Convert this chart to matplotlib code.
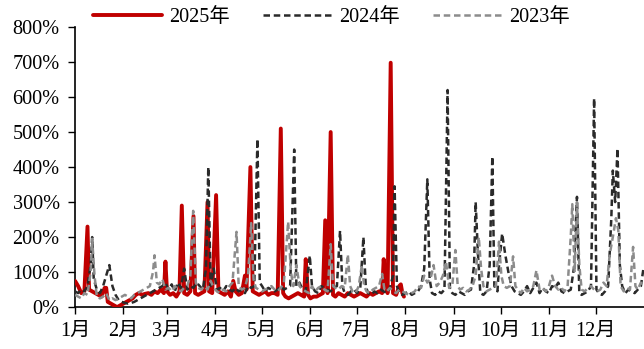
import matplotlib
matplotlib.use("Agg")
import matplotlib.pyplot as plt

# Шрифти: цифри з засічками, ієрогліфи з CJK-шрифту
plt.rcParams["font.family"] = ["Liberation Serif", "Noto Sans CJK SC"]
plt.rcParams["font.size"] = 14.6

# Місяці (день року початку місяця)
month_days = [0, 31, 59, 90, 120, 151, 181, 212, 243, 273, 304, 334]
month_labels = [f"{m}月" for m in range(1, 13)]

# 2025 рік
days_2025 = [0, 2, 4, 6, 8, 9, 11, 13, 15, 17, 19, 20, 21, 23, 25, 27, 29, 31, 33, 35,
             37, 39, 41, 43, 45, 47, 49, 51, 53, 55, 57, 58, 59, 61, 63, 65, 67, 68.5, 70, 72,
             74, 76, 77, 79, 81, 83, 85, 86, 88, 90.5, 92, 94, 96, 98, 100, 101.5, 103, 105, 107, 109,
             110, 112.5, 114, 116, 118, 120, 122, 124, 126, 128, 130, 132, 133.5, 135, 137, 139, 141, 143, 145, 147,
             148, 149.5, 151, 153, 155, 157, 159, 160.5, 162, 164, 165.5, 167, 169, 171, 173, 175, 177, 179, 181, 183,
             185, 187, 189, 191, 193, 195, 197, 198, 199.5, 200.5, 202.5, 204, 206, 208, 209, 210, 211]
vals_2025 = [75, 60, 40, 45, 230, 50, 45, 40, 35, 30, 55, 55, 15, 10, 5, 0, 5, 10, 15, 20,
             25, 35, 40, 35, 38, 40, 35, 45, 40, 50, 40, 130, 45, 35, 40, 30, 45, 290, 40, 35,
             45, 260, 40, 35, 40, 45, 300, 45, 40, 320, 45, 40, 35, 45, 30, 75, 45, 35, 40, 90,
             50, 400, 45, 40, 35, 40, 45, 35, 40, 40, 35, 510, 40, 30, 25, 30, 35, 40, 35, 30,
             137, 35, 25, 30, 30, 35, 40, 248, 40, 500, 35, 30, 40, 35, 30, 40, 35, 30, 35, 40,
             35, 30, 40, 35, 40, 45, 40, 137, 60, 40, 698, 40, 35, 60, 65, 40, 30]

# 2024 рік
days_2024 = [0, 2, 4, 6, 8, 10, 11, 12, 14, 16, 18, 20, 22, 24, 26, 28, 30, 32, 34, 36,
             38, 40, 42, 44, 46, 48, 50, 52, 54, 56, 58, 60, 62, 64, 66, 68, 70, 72, 74, 76,
             78, 80, 82, 84, 85.5, 87, 89, 91, 93, 95, 97, 99, 101, 103, 105, 107, 109, 111, 113, 115,
             117, 118.5, 120, 122, 124, 126, 128, 130, 132, 134, 136, 138, 140.6, 142, 144, 146, 148, 150.6, 152, 154,
             156, 158, 160, 162, 164, 166, 168, 170, 171.5, 173, 175, 177, 179, 181, 183, 185, 186.5, 188, 190, 192,
             194, 196, 198, 200, 202, 204, 205, 206.5, 208, 210, 212, 214, 216, 218, 220, 222, 224, 226, 227.5, 229,
             231, 233, 235, 237, 239, 240.5, 242, 244, 246, 248, 250, 252, 254, 256, 257, 258.5, 260, 262, 264, 266,
             267.7, 269, 271, 272, 274, 276, 278, 280, 282, 284, 286, 288, 290, 292, 294, 296, 298, 300, 302, 304,
             306, 308, 310, 312, 314, 316, 318, 320, 322, 323.5, 325, 327, 329, 331, 333, 334.5, 336, 338, 340, 342,
             344, 345, 346.5, 348, 349.5, 351, 353, 355, 357, 359, 361, 363, 364.5]
vals_2024 = [45, 40, 50, 45, 60, 120, 200, 80, 50, 40, 60, 90, 120, 60, 35, 20, 15, 12, 10, 12,
             15, 20, 25, 30, 35, 40, 45, 50, 55, 60, 70, 50, 65, 45, 70, 55, 110, 50, 60, 55,
             70, 60, 50, 110, 400, 60, 110, 50, 55, 45, 60, 50, 45, 55, 45, 50, 40, 60, 55, 60,
             480, 70, 60, 45, 55, 50, 45, 50, 60, 50, 55, 60, 450, 60, 70, 50, 45, 147, 60, 45,
             40, 60, 55, 50, 45, 55, 60, 218, 60, 40, 35, 45, 50, 40, 55, 200, 60, 40, 35, 45,
             40, 50, 45, 40, 55, 90, 345, 60, 40, 35, 40, 45, 35, 40, 45, 60, 110, 365, 80, 40,
             35, 45, 40, 50, 620, 50, 40, 35, 45, 40, 35, 45, 50, 120, 300, 150, 40, 35, 45, 120,
             430, 60, 45, 120, 210, 150, 100, 60, 45, 40, 35, 45, 60, 40, 55, 70, 40, 55, 45, 40,
             60, 55, 70, 45, 40, 45, 50, 110, 315, 40, 35, 40, 45, 60, 596, 50, 40, 35, 45, 60,
             250, 390, 300, 453, 120, 60, 40, 50, 45, 40, 50, 60, 106]

# 2023 рік
days_2023 = [0, 2, 4, 6, 8, 10, 11, 12.5, 14, 16, 18, 20, 22, 24, 26, 28, 30, 32, 34, 36,
             38, 40, 42, 44, 46, 48, 50, 51, 52.5, 54, 56, 58, 60, 62, 64, 66, 68, 70, 72, 74,
             75.8, 77.5, 79, 81, 83, 85, 87, 89, 91, 93, 95, 97, 99, 101, 103.6, 105, 107, 109, 111, 113,
             114.5, 116, 118, 120, 122, 124, 126, 128, 130, 132, 134, 136.7, 138.5, 140, 142, 144, 146, 148, 150, 152,
             154, 156, 158, 160, 162, 164, 165.5, 167, 169, 171, 173, 175, 176.5, 178, 180, 182, 184, 185.5, 187, 189,
             191, 193, 195, 197, 198.5, 200, 202, 204, 206, 208, 210, 212, 214, 216, 218, 220, 222, 224, 226, 228,
             230, 232, 234, 236, 238, 240, 242, 244, 245.5, 247, 249, 251, 253, 255, 257, 259, 260.5, 262, 264, 266,
             268, 270, 272, 273.5, 275, 277, 279, 281, 282.5, 284, 286, 288, 290, 292, 294, 296, 298, 300, 302, 304,
             306, 308, 310, 312, 314, 316, 318, 319, 320.5, 322, 323.5, 325, 327, 329, 331, 333, 335, 337, 339, 341,
             343, 345, 347, 348.5, 350, 352, 354, 356, 358, 359.5, 361, 363, 365]
vals_2023 = [35, 30, 25, 40, 35, 100, 195, 90, 30, 25, 30, 40, 20, 25, 20, 25, 30, 35, 30, 25,
             35, 40, 45, 50, 55, 60, 100, 148, 70, 65, 80, 50, 55, 45, 60, 50, 45, 55, 60, 90,
             275, 70, 55, 50, 60, 50, 75, 55, 45, 40, 50, 45, 60, 70, 215, 60, 50, 55, 90, 240,
             80, 55, 50, 45, 50, 55, 60, 50, 45, 55, 70, 244, 100, 60, 120, 60, 50, 45, 40, 60,
             45, 55, 60, 50, 45, 180, 60, 55, 50, 60, 55, 150, 60, 45, 40, 60, 120, 60, 45, 40,
             50, 55, 60, 95, 50, 45, 55, 45, 40, 50, 45, 40, 35, 40, 45, 60, 55, 90, 70, 80,
             120, 60, 70, 90, 130, 55, 60, 163, 60, 50, 55, 45, 50, 60, 90, 200, 110, 60, 45, 50,
             55, 60, 187, 90, 60, 55, 60, 145, 60, 50, 40, 55, 45, 50, 60, 105, 50, 55, 45, 60,
             90, 60, 50, 55, 45, 60, 200, 294, 100, 300, 120, 50, 45, 55, 60, 50, 45, 50, 70, 60,
             150, 200, 254, 220, 60, 45, 55, 50, 172, 60, 50, 70, 60]

fig = plt.figure(figsize=(6.44, 3.49), dpi=100)
ax = fig.add_axes([0.1165, 0.12, 0.8835, 0.8026])

ax.plot(days_2025, vals_2025, color="#C00000", lw=2.8, label="2025年",
        solid_joinstyle="round", solid_capstyle="round", zorder=3)
ax.plot(days_2024, vals_2024, color="#2A2A2A", lw=1.8, ls=(0, (2.6, 1.5)),
        label="2024年", zorder=4)
ax.plot(days_2023, vals_2023, color="#8C8C8C", lw=1.8, ls=(0, (2.6, 1.5)),
        label="2023年", zorder=5)

ax.set_xlim(0, 365)
ax.set_ylim(0, 800)
ax.set_yticks(range(0, 801, 100))
ax.set_yticklabels([f"{v}%" for v in range(0, 801, 100)])
ax.set_xticks(month_days)
ax.set_xticklabels(month_labels)
ax.tick_params(direction="out", length=5, width=1, pad=6)
ax.spines[["top", "right"]].set_visible(False)
for s in ("left", "bottom"):
    ax.spines[s].set_linewidth(1.2)

fig.legend(loc="upper center", bbox_to_anchor=(0.515, 1.03), ncol=3, frameon=False,
           handlelength=3.4, handletextpad=0.35, columnspacing=1.65)

fig.savefig("out.png", dpi=100)
